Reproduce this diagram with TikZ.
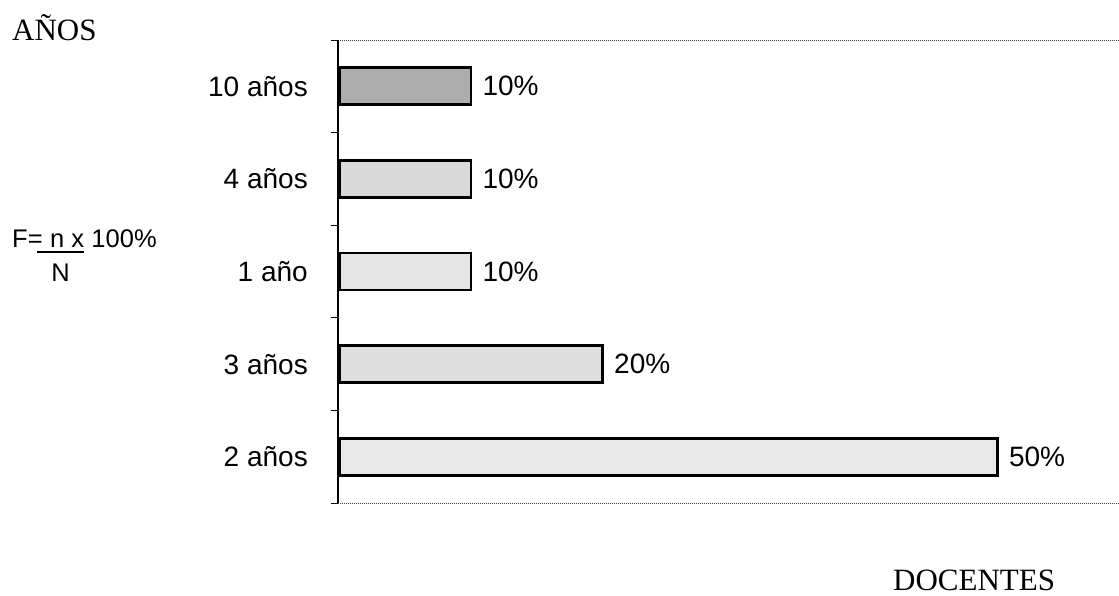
\documentclass[tikz,border=0pt]{standalone}
\usepackage{fontspec}
\setmainfont{Liberation Serif}
\setsansfont{Liberation Sans}
\usetikzlibrary{calc,positioning}

\begin{document}
\begin{tikzpicture}[x=1pt,y=-1pt,
lab/.style={font=\sffamily\fontsize{28}{30}\selectfont,inner sep=0},
title/.style={font=\rmfamily\fontsize{31}{34}\selectfont,inner sep=0},
frm/.style={font=\sffamily\fontsize{25.5}{28}\selectfont,inner sep=0},
axis/.style={line width=1.4pt},
frame/.style={line width=1pt,densely dotted,black!75},
tick/.style={line width=1pt},
bar/.style={draw,line width=2.8pt,inner sep=0,minimum height=37pt,anchor=west}]
	\def\xx{13.16}
	\def\ll{-30pt}
	\useasboundingbox (0,0) rectangle (1119,595);
	\coordinate (top) at (338,40);
	\coordinate (bot) at (338,503);
	\coordinate (e1) at (1119,40);
	\coordinate (e2) at (1119,503);

	\draw[frame] (top) -- (e1);
	\draw[frame] (bot) -- (e2);
	\draw[axis] (top) -- (bot);
	\foreach \j in {0,...,5} {
		\draw[tick] ($(top)!\j/5!(bot)$) -- ++(-7,0);
	}

	%bars
	\foreach \i/\t/\p/\c in {1/10 años/10/black!32,2/4 años/10/black!15,3/1 año/10/black!10,4/3 años/20/black!13,5/2 años/50/black!9} {
		\node[bar, fill=\c, minimum width={\p*\xx pt}] (b\i) at ($(top)!{(\i-0.5)/5}!(bot)$) {};
		\node[lab, anchor=east] (c\i) at ([xshift=\ll]b\i.west) {\t};
		\node[lab, anchor=west] (v\i) at ([xshift=10pt]b\i.east) {\p\%};
	}

	\node[title, anchor=base west] (anos) at (12,40) {AÑOS};
	\node[title, anchor=base west] (doc) at (893,590) {DOCENTES};

	%formula
	\node[frm, anchor=base west] (fF) at (12,247) {F=};
	\node[frm, anchor=base west] (fn) at ([xshift=7pt]fF.base east) {n x};
	\node[frm, anchor=base west] (fp) at ([xshift=7pt]fn.base east) {100\%};
	\draw[line width=1.8pt] ([xshift=-6pt,yshift=-5pt]fF.base east) coordinate (fl) -- ([yshift=-5pt]fn.base east) coordinate (fr);
	\node[frm, anchor=base] (fN) at ($(fl)!0.5!(fr)+(0,29)$) {N};
\end{tikzpicture}
\end{document}
